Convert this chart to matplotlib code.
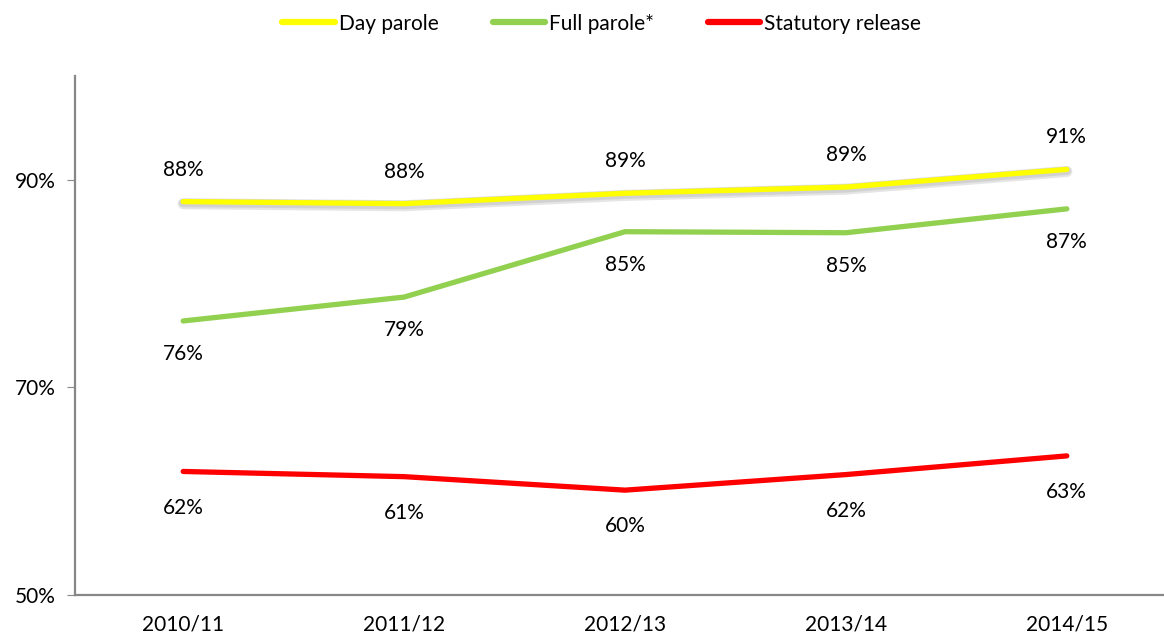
import matplotlib.pyplot as plt
import matplotlib.patheffects as pe
from matplotlib.lines import Line2D

years = ['2010/11', '2011/12', '2012/13', '2013/14', '2014/15']
day_parole = [87.9, 87.7, 88.7, 89.3, 91.0]
full_parole = [76.4, 78.7, 85.0, 84.9, 87.2]
statutory = [61.9, 61.4, 60.1, 61.6, 63.4]

names = ['Day parole', 'Full parole*', 'Statutory release']
colors = ['#ffff00', '#92d050', '#ff0000']

plt.rcParams['font.family'] = ['Lato', 'DejaVu Sans']

fig = plt.figure(figsize=(11.64, 6.36), dpi=100)
ax = fig.add_axes([0.0644, 0.0645, 0.9356, 0.816])

x = range(len(years))
# soft grey glow under the day parole line
shadow = [pe.SimpleLineShadow(offset=(0, -1.5), shadow_color='#999999', alpha=0.25, linewidth=8),
          pe.SimpleLineShadow(offset=(0, -1), shadow_color='#999999', alpha=0.25, linewidth=6),
          pe.Normal()]
ax.plot(x, day_parole, color=colors[0], lw=3.8, solid_capstyle='round', path_effects=shadow)
ax.plot(x, full_parole, color=colors[1], lw=3.8, solid_capstyle='round')
ax.plot(x, statutory, color=colors[2], lw=3.8, solid_capstyle='round')

for i in x:
    ax.annotate(f'{round(day_parole[i])}%', (i, day_parole[i]), xytext=(0, 23),
                textcoords='offset points', ha='center', va='center', fontsize=15)
    ax.annotate(f'{round(full_parole[i])}%', (i, full_parole[i]), xytext=(0, -24),
                textcoords='offset points', ha='center', va='center', fontsize=15)
    ax.annotate(f'{round(statutory[i])}%', (i, statutory[i]), xytext=(0, -26),
                textcoords='offset points', ha='center', va='center', fontsize=15)

ax.set_xlim(-0.49, 4.44)
ax.set_ylim(50, 100)
ax.set_yticks([50, 70, 90])
ax.set_yticklabels(['50%', '70%', '90%'], fontsize=15)
ax.set_xticks(list(x))
ax.set_xticklabels(years, fontsize=15)
ax.tick_params(axis='x', length=0, pad=14)
ax.tick_params(axis='y', length=6, color='#878787', pad=8)
for s in ['top', 'right']:
    ax.spines[s].set_visible(False)
for s in ['left', 'bottom']:
    ax.spines[s].set_color('#878787')
    ax.spines[s].set_linewidth(1.6)

handles = [Line2D([], [], color=c, lw=4.5, solid_capstyle='round') for c in colors]
fig.legend(handles, names, loc='center', bbox_to_anchor=(0.517, 0.963), ncol=3,
           frameon=False, fontsize=15, handlelength=2.5, handletextpad=0.2,
           columnspacing=2.6)

fig.savefig('out.png', dpi=100)
